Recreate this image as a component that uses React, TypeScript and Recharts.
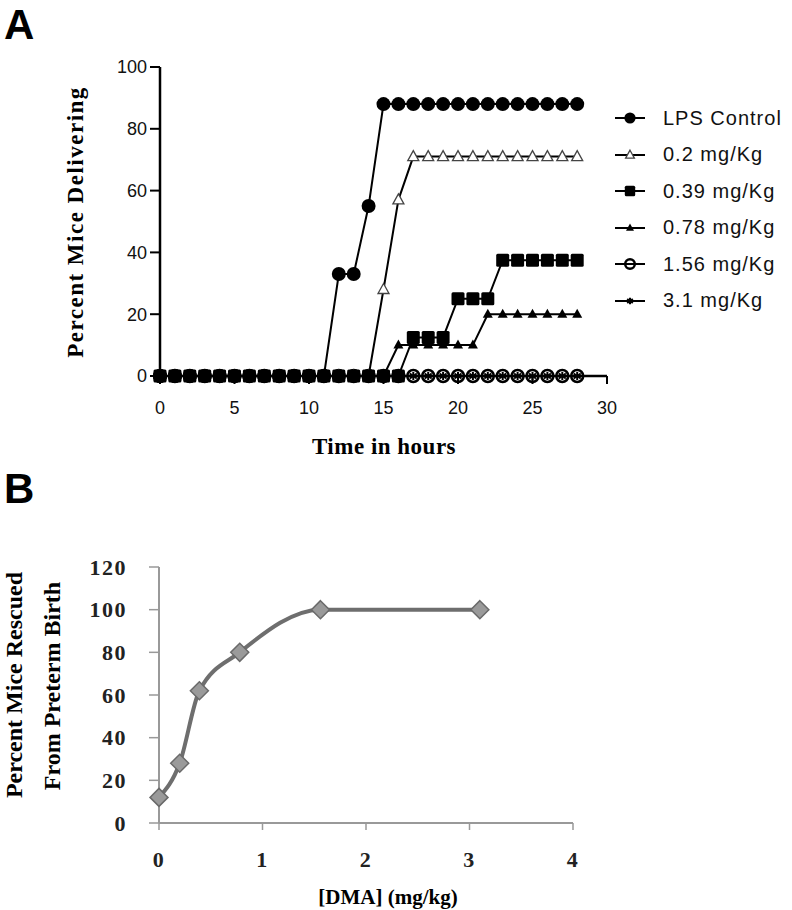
import React from 'react';
import { LineChart, Line, XAxis, YAxis, Legend } from 'recharts';

// Panel A: percent of mice delivering over time
const hours = [0, 1, 2, 3, 4, 5, 6, 7, 8, 9, 10, 11, 12, 13, 14, 15, 16, 17, 18, 19, 20, 21, 22, 23, 24, 25, 26, 27, 28];
const lpsControl = [0, 0, 0, 0, 0, 0, 0, 0, 0, 0, 0, 0, 33, 33, 55, 88, 88, 88, 88, 88, 88, 88, 88, 88, 88, 88, 88, 88, 88];
const dose02 = [0, 0, 0, 0, 0, 0, 0, 0, 0, 0, 0, 0, 0, 0, 0, 28, 57, 71, 71, 71, 71, 71, 71, 71, 71, 71, 71, 71, 71];
const dose039 = [0, 0, 0, 0, 0, 0, 0, 0, 0, 0, 0, 0, 0, 0, 0, 0, 0, 12.5, 12.5, 12.5, 25, 25, 25, 37.5, 37.5, 37.5, 37.5, 37.5, 37.5];
const dose078 = [0, 0, 0, 0, 0, 0, 0, 0, 0, 0, 0, 0, 0, 0, 0, 0, 10, 10, 10, 10, 10, 10, 20, 20, 20, 20, 20, 20, 20];
const dose156 = [0, 0, 0, 0, 0, 0, 0, 0, 0, 0, 0, 0, 0, 0, 0, 0, 0, 0, 0, 0, 0, 0, 0, 0, 0, 0, 0, 0, 0];
const dose31 = [0, 0, 0, 0, 0, 0, 0, 0, 0, 0, 0, 0, 0, 0, 0, 0, 0, 0, 0, 0, 0, 0, 0, 0, 0, 0, 0, 0, 0];
const seriesNames = ['LPS Control', '0.2 mg/Kg', '0.39 mg/Kg', '0.78 mg/Kg', '1.56 mg/Kg', '3.1 mg/Kg'];
const hourTicks = [0, 5, 10, 15, 20, 25, 30];
const percentTicks = [0, 20, 40, 60, 80, 100];

// Panel B: rescue vs dose
const doses = [0, 0.2, 0.39, 0.78, 1.56, 3.1];
const rescued = [12, 28, 62, 80, 100, 100];
const doseTicks = [0, 1, 2, 3, 4];
const rescueTicks = [0, 20, 40, 60, 80, 100, 120];

type Kind = 'circle' | 'triOpen' | 'square' | 'tri' | 'circleOpen' | 'star';

const SERIES: { key: string; kind: Kind; values: number[] }[] = [
  { key: 'lps', kind: 'circle', values: lpsControl },
  { key: 'd02', kind: 'triOpen', values: dose02 },
  { key: 'd039', kind: 'square', values: dose039 },
  { key: 'd078', kind: 'tri', values: dose078 },
  { key: 'd156', kind: 'circleOpen', values: dose156 },
  { key: 'd31', kind: 'star', values: dose31 },
];

// painting order (bottom first), so overlapping markers stack like the original
const drawKeys = ['d31', 'd156', 'd02', 'd078', 'd039', 'lps'];

const timeData = hours.map((h, i) => {
  const row: Record<string, number> = { hour: h };
  SERIES.forEach(s => { row[s.key] = s.values[i]; });
  return row;
});

const doseData = doses.map((d, i) => ({ dose: d, rescued: rescued[i] }));

const Marker = ({ kind, cx, cy, s = 1 }: { kind: Kind; cx: number; cy: number; s?: number }) => {
  switch (kind) {
    case 'circle':
      return <circle cx={cx} cy={cy} r={7 * s} fill="#000" />;
    case 'triOpen':
      return (
        <path
          d={`M${cx},${cy - 6 * s} L${cx + 5.5 * s},${cy + 4 * s} L${cx - 5.5 * s},${cy + 4 * s} Z`}
          fill="#fff" stroke="#444" strokeWidth={1.3}
        />
      );
    case 'square':
      return <rect x={cx - 6.5 * s} y={cy - 6.5 * s} width={13 * s} height={13 * s} rx={1.5} fill="#000" />;
    case 'tri':
      return (
        <path
          d={`M${cx},${cy - 5.5 * s} L${cx + 5 * s},${cy + 3.5 * s} L${cx - 5 * s},${cy + 3.5 * s} Z`}
          fill="#000"
        />
      );
    case 'circleOpen':
      return <circle cx={cx} cy={cy} r={6 * s} fill="none" stroke="#000" strokeWidth={2.5} />;
    case 'star':
      return (
        <g stroke="#000" strokeWidth={2}>
          <line x1={cx} y1={cy - 4 * s} x2={cx} y2={cy + 4 * s} />
          <line x1={cx - 3.5 * s} y1={cy - 2.5 * s} x2={cx + 3.5 * s} y2={cy + 2.5 * s} />
          <line x1={cx - 3.5 * s} y1={cy + 2.5 * s} x2={cx + 3.5 * s} y2={cy - 2.5 * s} />
        </g>
      );
  }
  return null;
};

const Diamond = (p: any) => (
  <path
    key={`dm-${p.index}`}
    d={`M${p.cx},${p.cy - 9} L${p.cx + 9},${p.cy} L${p.cx},${p.cy + 9} L${p.cx - 9},${p.cy} Z`}
    fill="#9a9a9a" stroke="#6a6a6a" strokeWidth={1.5}
  />
);

// legend in the original order, whatever order recharts hands the payload in
const renderLegend = (props: any) => {
  const items = [...(props.payload || [])].sort(
    (a: any, b: any) => SERIES.findIndex(s => s.key === a.dataKey) - SERIES.findIndex(s => s.key === b.dataKey)
  );
  return (
    <div style={{ fontFamily: '"Liberation Sans", Arial, sans-serif', fontSize: 20, color: '#111' }}>
      {items.map((it: any) => {
        const s = SERIES.find(d => d.key === it.dataKey);
        return (
          <div key={it.dataKey} style={{ display: 'flex', alignItems: 'center', height: 36.5 }}>
            <svg width={34} height={18}>
              <line x1={2} y1={9} x2={32} y2={9} stroke="#000" strokeWidth={2} />
              {s && <Marker kind={s.kind} cx={17} cy={9} s={0.8} />}
            </svg>
            <span style={{ marginLeft: 16, letterSpacing: 1, whiteSpace: 'nowrap' }}>{it.value}</span>
          </div>
        );
      })}
    </div>
  );
};

const serif = '"Liberation Serif", "Times New Roman", serif';
const sans = '"Liberation Sans", Arial, sans-serif';

const rotated = (cx: number, cy: number): React.CSSProperties => ({
  position: 'absolute', left: cx, top: cy, transform: 'translate(-50%, -50%) rotate(-90deg)',
  whiteSpace: 'nowrap', fontFamily: serif, fontWeight: 'bold', lineHeight: 1,
});

const centered = (cx: number, cy: number): React.CSSProperties => ({
  position: 'absolute', left: cx, top: cy, transform: 'translate(-50%, -50%)',
  whiteSpace: 'nowrap', fontFamily: serif, fontWeight: 'bold', lineHeight: 1,
});

const App: React.FC = () => {
  const tickA = { fontFamily: sans, fontSize: 18, fill: '#111' };
  const tickB = { fontFamily: serif, fontSize: 22, fontWeight: 'bold', fill: '#222', letterSpacing: 1.5 };
  const drawOrder = drawKeys.map(k => {
    const i = SERIES.findIndex(s => s.key === k);
    return { ...SERIES[i], name: seriesNames[i] };
  });
  return (
    <div style={{ position: 'absolute', left: 0, top: 0, width: 792, height: 910, background: '#fff' }}>
      <div style={{ position: 'absolute', left: 4, top: 4, fontFamily: sans, fontWeight: 'bold', fontSize: 42, lineHeight: 1 }}>A</div>
      <div style={{ position: 'absolute', left: 4, top: 468, fontFamily: sans, fontWeight: 'bold', fontSize: 42, lineHeight: 1 }}>B</div>

      <div style={{ position: 'absolute', left: 0, top: 0 }}>
        <LineChart width={792} height={480} data={timeData} margin={{ top: 67, right: 185, bottom: 74, left: 100 }}>
          <XAxis
            dataKey="hour" type="number" domain={[0, 30]} ticks={hourTicks}
            axisLine={{ stroke: '#000', strokeWidth: 2.5 }} tickLine={{ stroke: '#000', strokeWidth: 2 }}
            tickSize={8} tickMargin={17} height={30} tick={tickA}
          />
          <YAxis
            type="number" domain={[0, 100]} ticks={percentTicks} width={60}
            axisLine={{ stroke: '#000', strokeWidth: 2.5 }} tickLine={{ stroke: '#000', strokeWidth: 2 }}
            tickSize={10} tickMargin={3} tick={tickA}
          />
          <Legend
            layout="vertical" align="center" verticalAlign="middle" content={renderLegend}
            wrapperStyle={{ position: 'absolute', left: 613, top: 100, width: 180, height: 220 }}
          />
          {drawOrder.map(s => (
            <Line
              key={s.key} dataKey={s.key} name={s.name} type="linear"
              stroke="#000" strokeWidth={2} isAnimationActive={false}
              dot={(p: any) => <Marker key={`${s.key}-${p.index}`} kind={s.kind} cx={p.cx} cy={p.cy} />}
              activeDot={false}
            />
          ))}
        </LineChart>
      </div>
      <div style={{ ...rotated(75, 222), fontSize: 23, letterSpacing: 1.5 }}>Percent Mice Delivering</div>
      <div style={{ ...centered(384, 446), fontSize: 23, letterSpacing: 0.5 }}>Time in hours</div>

      <div style={{ position: 'absolute', left: 0, top: 480 }}>
        <LineChart width={792} height={430} data={doseData} margin={{ top: 87, right: 219, bottom: 57, left: 99 }}>
          <XAxis
            dataKey="dose" type="number" domain={[0, 4]} ticks={doseTicks}
            axisLine={{ stroke: '#999', strokeWidth: 2 }} tickLine={{ stroke: '#999', strokeWidth: 1.5 }}
            tickSize={7} tickMargin={21} height={30} tick={tickB}
          />
          <YAxis
            type="number" domain={[0, 120]} ticks={rescueTicks} width={60}
            axisLine={{ stroke: '#999', strokeWidth: 2 }} tickLine={{ stroke: '#999', strokeWidth: 1.5 }}
            tickSize={10} tickMargin={22} tick={tickB}
          />
          <Line
            dataKey="rescued" type="monotone" stroke="#6e6e6e" strokeWidth={4}
            isAnimationActive={false} dot={Diamond} activeDot={false}
          />
        </LineChart>
      </div>
      <div style={{ ...rotated(14, 685), fontSize: 24 }}>Percent Mice Rescued</div>
      <div style={{ ...rotated(52, 686), fontSize: 24 }}>From Preterm Birth</div>
      <div style={{ ...centered(388, 897), fontSize: 21 }}>[DMA] (mg/kg)</div>
    </div>
  );
};

export default App;
